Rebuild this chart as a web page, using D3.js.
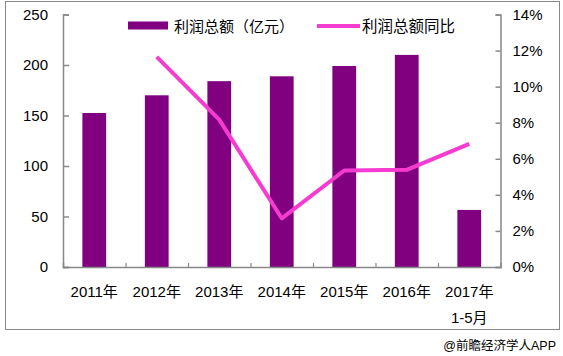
<!DOCTYPE html>
<html><head><meta charset="utf-8">
<script src="https://cdn.jsdelivr.net/npm/d3@7/dist/d3.min.js"></script>
<style>
body{margin:0;background:#fff;}
text{font-family:"Liberation Sans",Arial,"Noto Sans CJK SC",sans-serif;}
</style></head>
<body><svg id="c" width="563" height="356"></svg>
<script>
const categories = ["2011年","2012年","2013年","2014年","2015年","2016年","2017年"];
const categorySub = ["","","","","","","1-5月"];
const profit = [152.5, 170, 184, 188.8, 199, 210, 56.5];
const growth = [null, 11.65, 8.17, 2.7, 5.35, 5.39, 6.83];
const leftTicks = [0,50,100,150,200,250];
const rightTicks = [0,2,4,6,8,10,12,14];
const legendLabels = ["利润总额（亿元）","利润总额同比"];
const source = "@前瞻经济学人APP";

const svg = d3.select("#c");
const font = '"Liberation Sans",Arial,"Noto Sans CJK SC",sans-serif';
const barColor = "#800080", lineColor = "#f53bd0", axisColor = "#888";
const L = 63, R = 500.5, T = 14.5, B = 267;

// border
svg.append("rect").attr("x",5.5).attr("y",1.5).attr("width",554).attr("height",328)
  .attr("fill","none").attr("stroke","#888").attr("stroke-width",1);

const x = d3.scaleBand().domain(categories).range([L,R]).paddingInner(0.62).paddingOuter(0.31);
const yL = d3.scaleLinear().domain([0,250]).range([B,T]);
const yR = d3.scaleLinear().domain([0,14]).range([B,T]);

// bars
svg.append("g").selectAll("rect").data(profit).join("rect")
  .attr("x",(d,i)=>x(categories[i])).attr("width",x.bandwidth())
  .attr("y",d=>yL(d)).attr("height",d=>B-yL(d)).attr("fill",barColor);

// left axis
const gl = svg.append("g").attr("transform",`translate(${L},0)`)
  .call(d3.axisLeft(yL).tickValues(leftTicks).tickSize(-6).tickPadding(15));
gl.select(".domain").attr("stroke",axisColor).attr("stroke-width",1.5);
gl.selectAll(".tick line").attr("stroke",axisColor).attr("stroke-width",1.5);
gl.selectAll(".tick text").attr("font-size",15).attr("fill","#000").attr("font-family",font);

// right axis
const gr = svg.append("g").attr("transform",`translate(${R},0)`)
  .call(d3.axisRight(yR).tickValues(rightTicks).tickSize(-5).tickPadding(12).tickFormat(d=>d+"%"));
gr.select(".domain").attr("stroke",axisColor).attr("stroke-width",1.5);
gr.selectAll(".tick line").attr("stroke",axisColor).attr("stroke-width",1.5);
gr.selectAll(".tick text").attr("font-size",15).attr("fill","#000").attr("font-family",font);

// bottom axis
const xb = d3.scaleLinear().domain([0,7]).range([L,R]);
const gb = svg.append("g").attr("transform",`translate(0,${B})`)
  .call(d3.axisBottom(xb).tickValues([1,2,3,4,5,6]).tickSize(-4).tickFormat(""));
gb.select(".domain").attr("stroke",axisColor).attr("stroke-width",1.5);
gb.selectAll(".tick line").attr("stroke",axisColor).attr("stroke-width",1.2);

// category labels
const cl = svg.append("g");
categories.forEach((c,i)=>{
  const cx = x(c)+x.bandwidth()/2;
  cl.append("text").attr("x",cx).attr("y",297).attr("text-anchor","middle")
    .attr("font-size",15).attr("fill","#000").text(c);
  if(categorySub[i]) cl.append("text").attr("x",cx).attr("y",323).attr("text-anchor","middle")
    .attr("font-size",15).attr("fill","#000").text(categorySub[i]);
});

// line
const line = d3.line().defined(d=>d!=null)
  .x((d,i)=>x(categories[i])+x.bandwidth()/2).y(d=>yR(d));
svg.append("path").datum(growth).attr("d",line).attr("fill","none")
  .attr("stroke",lineColor).attr("stroke-width",4).attr("stroke-linejoin","round");

// legend
const lg = svg.append("g");
lg.append("rect").attr("x",128).attr("y",21.5).attr("width",40).attr("height",8).attr("fill",barColor);
lg.append("text").attr("x",174).attr("y",31.5).attr("font-size",15).attr("fill","#000").text(legendLabels[0]);
lg.append("line").attr("x1",317).attr("x2",360).attr("y1",26).attr("y2",26)
  .attr("stroke",lineColor).attr("stroke-width",4);
lg.append("text").attr("x",362).attr("y",31.5).attr("font-size",15.5).attr("fill","#000").text(legendLabels[1]);

// source
svg.append("text").attr("x",556).attr("y",350).attr("text-anchor","end")
  .attr("font-size",12.5).attr("fill","#000").text(source);
</script></body></html>
